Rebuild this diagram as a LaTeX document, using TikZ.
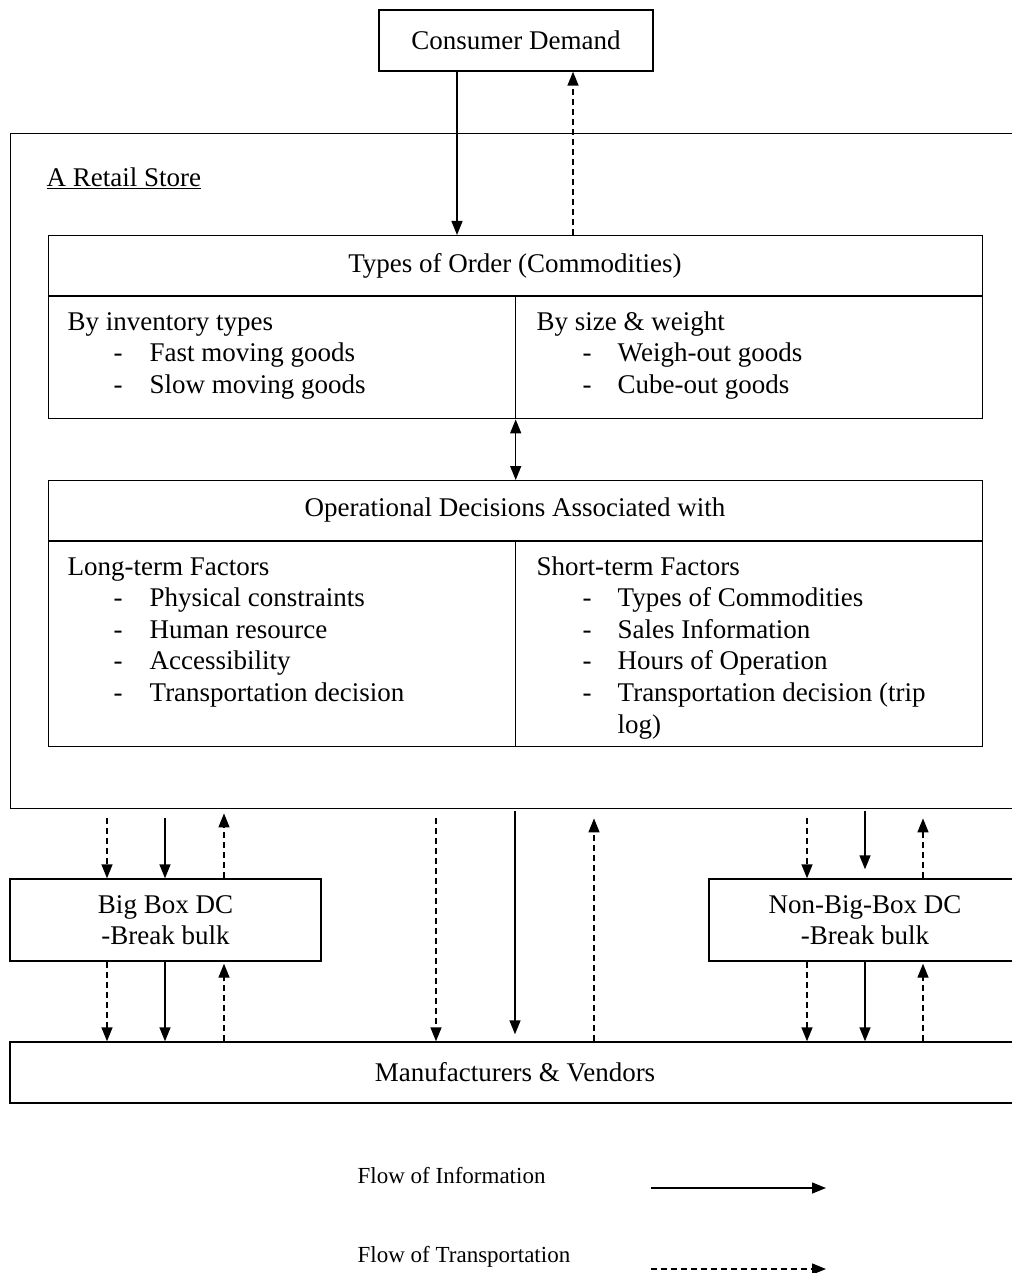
\documentclass[tikz,border=0pt]{standalone}
\usepackage{fontspec}
\setmainfont{Liberation Serif}
\usetikzlibrary{arrows.meta,calc}
\begin{document}
\begin{tikzpicture}[x=1pt,y=-1pt, line width=1.4pt,
  box/.style={draw, rectangle, inner sep=0pt, line width=1.4pt, align=center, font=\fontsize{27}{31}\selectfont},
  info/.style={-{Triangle[width=11pt,length=14pt]}, line width=1.4pt},
  infoboth/.style={{Triangle[width=11pt,length=14pt]}-{Triangle[width=11pt,length=14pt]}, line width=1.4pt},
  trans/.style={info, dash pattern=on 6pt off 4pt},
  txt/.style={font=\fontsize{27}{31.6}\selectfont, inner sep=0pt, anchor=base west},
  ctxt/.style={font=\fontsize{27}{31.6}\selectfont, inner sep=0pt},
  legtxt/.style={font=\fontsize{23}{27}\selectfont, inner sep=0pt, anchor=base west},
]
\useasboundingbox (0,0) rectangle (1011,1273);

% boxes
\node[box, minimum width=274, minimum height=61] (cd) at (516,40.5) {Consumer Demand};
\node[box, minimum width=1010, minimum height=675, anchor=north west] (store) at (10,133) {};
\node[txt] (title) at (46,187) {\underline{A Retail Store}};

\node[box, minimum width=934, minimum height=183, anchor=north west] (types) at (48,235) {};
\draw ($(types.north west)+(0,61)$) -- ($(types.north east)+(0,61)$);
\draw ($(types.north)+(0,61)$) -- (types.south);
\node[ctxt] (th) at (515,265.5) {Types of Order (Commodities)};
\node[txt] (t1) at (67,330) {By inventory types};
\node[txt] (t1a) at (113,361.6) {-};
\node[txt] (t1b) at (149,361.6) {Fast moving goods};
\node[txt] (t1c) at (113,393.2) {-};
\node[txt] (t1d) at (149,393.2) {Slow moving goods};
\node[txt] (t2) at (536,330) {By size \& weight};
\node[txt] (t2a) at (582,361.6) {-};
\node[txt] (t2b) at (617,361.6) {Weigh-out goods};
\node[txt] (t2c) at (582,393.2) {-};
\node[txt] (t2d) at (617,393.2) {Cube-out goods};

\node[box, minimum width=934, minimum height=266, anchor=north west] (ops) at (48,480) {};
\draw ($(ops.north west)+(0,61)$) -- ($(ops.north east)+(0,61)$);
\draw ($(ops.north)+(0,61)$) -- (ops.south);
\node[ctxt] (oh) at (515,510.5) {Operational Decisions Associated with};
\node[txt] (o1) at (67,575) {Long-term Factors};
\node[txt] (o1a) at (113,606.6) {-};
\node[txt] (o1b) at (149,606.6) {Physical constraints};
\node[txt] (o1c) at (113,638.2) {-};
\node[txt] (o1d) at (149,638.2) {Human resource};
\node[txt] (o1e) at (113,669.8) {-};
\node[txt] (o1f) at (149,669.8) {Accessibility};
\node[txt] (o1g) at (113,701.4) {-};
\node[txt] (o1h) at (149,701.4) {Transportation decision};
\node[txt] (o2) at (536,575) {Short-term Factors};
\node[txt] (o2a) at (582,606.6) {-};
\node[txt] (o2b) at (617,606.6) {Types of Commodities};
\node[txt] (o2c) at (582,638.2) {-};
\node[txt] (o2d) at (617,638.2) {Sales Information};
\node[txt] (o2e) at (582,669.8) {-};
\node[txt] (o2f) at (617,669.8) {Hours of Operation};
\node[txt] (o2g) at (582,701.4) {-};
\node[txt] (o2h) at (617,701.4) {Transportation decision (trip};
\begin{scope}
\clip (600,705) rectangle (980,741);
\node[txt] (o2i) at (617,733) {log)};
\end{scope}

\node[box, minimum width=311, minimum height=82] (bigbox) at (165.5,920) {Big Box DC\\-Break bulk};
\node[box, minimum width=312, minimum height=82] (nonbig) at (865,920) {Non-Big-Box DC\\-Break bulk};
\node[box, minimum width=1010, minimum height=61] (mfr) at (515,1072.5) {Manufacturers \& Vendors};

% arrow columns
\coordinate (cA) at (457,0);
\coordinate (cB) at (573,0);
\coordinate (xL1) at (107,0);
\coordinate (xL2) at (165,0);
\coordinate (xL3) at (224,0);
\coordinate (xM1) at (436,0);
\coordinate (xM2) at (515,0);
\coordinate (xM3) at (594,0);
\coordinate (xR1) at (807,0);
\coordinate (xR2) at (865,0);
\coordinate (xR3) at (923,0);

% connectors
\draw[info] (cd.south -| cA) -- (types.north -| cA);
\draw[trans] (types.north -| cB) -- (cd.south -| cB);
\draw[infoboth] (types.south) -- (ops.north);

\draw[trans] ($(store.south -| xL1)+(0,9)$) -- (bigbox.north -| xL1);
\draw[info] ($(store.south -| xL2)+(0,9)$) -- (bigbox.north -| xL2);
\draw[trans] (bigbox.north -| xL3) -- ($(store.south -| xL3)+(0,4)$);

\draw[trans] ($(store.south -| xM1)+(0,9)$) -- (mfr.north -| xM1);
\draw[info] ($(store.south -| xM2)+(0,2)$) -- ($(mfr.north -| xM2)+(0,-7)$);
\draw[trans] (mfr.north -| xM3) -- ($(store.south -| xM3)+(0,9)$);

\draw[trans] ($(store.south -| xR1)+(0,9)$) -- (nonbig.north -| xR1);
\draw[info] ($(store.south -| xR2)+(0,2)$) -- ($(nonbig.north -| xR2)+(0,-9)$);
\draw[trans] (nonbig.north -| xR3) -- ($(store.south -| xR3)+(0,9)$);

\draw[trans] (bigbox.south -| xL1) -- (mfr.north -| xL1);
\draw[info] (bigbox.south -| xL2) -- (mfr.north -| xL2);
\draw[trans] (mfr.north -| xL3) -- ($(bigbox.south -| xL3)+(0,2)$);

\draw[trans] (nonbig.south -| xR1) -- (mfr.north -| xR1);
\draw[info] (nonbig.south -| xR2) -- (mfr.north -| xR2);
\draw[trans] (mfr.north -| xR3) -- ($(nonbig.south -| xR3)+(0,2)$);

% legend
\node[legtxt] (l1) at (357,1183) {Flow of Information};
\coordinate (l1s) at (651,1188);
\coordinate (l1e) at (826,1188);
\draw[info] (l1s) -- (l1e);
\node[legtxt] (l2) at (357,1262) {Flow of Transportation};
\coordinate (l2s) at (651,1269);
\coordinate (l2e) at (826,1269);
\draw[trans] (l2s) -- (l2e);
\end{tikzpicture}
\end{document}
